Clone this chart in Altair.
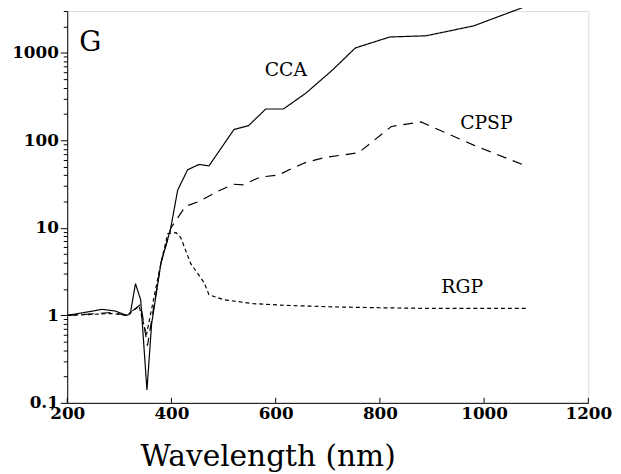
import altair as alt
import pandas as pd

# CCA (solid)
cca_wl = [200, 230, 267, 292, 314, 321, 331, 341, 353, 362, 380, 398, 412, 431, 453, 472, 520, 548, 581, 615, 658, 709, 753, 819, 889, 980, 1084]
cca_val = [1.0, 1.07, 1.17, 1.12, 1.0, 1.04, 2.3, 1.5, 0.14, 0.8, 4.0, 9.5, 27, 46, 53, 51, 133, 147, 228, 228, 346, 635, 1137, 1515, 1565, 2030, 3460]

# CPSP (long dashes)
cpsp_wl = [200, 240, 285, 314, 341, 354, 380, 399, 427, 453, 488, 519, 538, 570, 605, 626, 658, 696, 759, 822, 879, 980, 1084]
cpsp_val = [1.0, 1.03, 1.08, 1.0, 1.33, 0.45, 4.0, 10, 17.6, 20, 26, 31.5, 31, 38, 40, 46, 56, 64, 72, 144, 162, 88, 50]

# RGP (short dashes)
rgp_wl = [200, 240, 285, 314, 338, 352, 380, 393, 409, 418, 437, 463, 472, 500, 557, 620, 709, 800, 900, 1000, 1084]
rgp_val = [1.0, 1.02, 1.05, 1.0, 1.27, 0.6, 4.0, 8.6, 8.8, 7.7, 3.9, 2.35, 1.72, 1.51, 1.36, 1.3, 1.25, 1.22, 1.2, 1.2, 1.2]

x_ticks = [200, 400, 600, 800, 1000, 1200]
y_major = [0.1, 1, 10, 100, 1000]
y_all = [m * d for d in [0.1, 1, 10, 100, 1000] for m in range(1, 10)]
y_all = [round(v, 6) for v in y_all if v <= 3000]

labels = ["G", "CCA", "CPSP", "RGP"]
label_x = [223, 579, 954, 918]
label_y = [1050, 537, 136, 1.81]
label_size = [28, 19, 19, 19]

rows = []
for name, wl, val in [("CCA", cca_wl, cca_val), ("CPSP", cpsp_wl, cpsp_val), ("RGP", rgp_wl, rgp_val)]:
    for i, (a, b) in enumerate(zip(wl, val)):
        rows.append({"series": name, "wl": a, "v": b, "order": i})
df = pd.DataFrame(rows)
lab_df = pd.DataFrame({"t": labels, "x": label_x, "y": label_y, "s": label_size})
tick_df = pd.DataFrame({"x": x_ticks})

FONT = "DejaVu Serif"
W, H = 528, 397

xscale = alt.Scale(domain=[200, 1200], nice=False, zero=False)
yscale = alt.Scale(type="log", domain=[0.1, 3000], nice=False)

lines = alt.Chart(df).mark_line(color="black", strokeWidth=1.2).encode(
    x=alt.X("wl:Q", scale=xscale,
            axis=alt.Axis(values=x_ticks, title="Wavelength  (nm)", tickSize=0, format="d",
                          labelFont=FONT, labelFontSize=17, labelFontWeight="bold", labelPadding=3,
                          titleFont=FONT, titleFontSize=30, titleFontWeight="normal",
                          titleX=203, titleY=63, titleBaseline="alphabetic", titleAlign="center",
                          domainColor="black", labelColor="black", titleColor="black",
                          grid=False, labelFlush=False)),
    y=alt.Y("v:Q", scale=yscale,
            axis=alt.Axis(values=y_all, title=None,
                          labelExpr="indexof([0.1,1,10,100,1000], datum.value) >= 0 ? '' + datum.value : ''",
                          tickSize={"condition": {"test": "indexof([0.1,1,10,100,1000], datum.value) >= 0", "value": 7}, "value": 4},
                          labelFont=FONT, labelFontSize=17, labelFontWeight="bold", labelPadding=2,
                          domainColor="black", tickColor="black", labelColor="black",
                          grid=False, labelFlush=False)),
    strokeDash=alt.StrokeDash("series:N",
                              scale=alt.Scale(domain=["CCA", "CPSP", "RGP"], range=[[1, 0], [10, 7], [4, 3]]),
                              legend=None),
    order="order:Q",
)

xt = alt.Chart(tick_df).mark_rule(color="black", strokeWidth=1).encode(
    x=alt.X("x:Q", scale=xscale),
    y=alt.value(H),
    y2=alt.value(H - 5),
)

text = alt.Chart(lab_df).mark_text(font=FONT, align="left", baseline="alphabetic", color="black").encode(
    x=alt.X("x:Q", scale=xscale),
    y=alt.Y("y:Q", scale=yscale),
    text="t:N",
    size=alt.Size("s:Q", scale=None, legend=None),
)

chart = alt.layer(lines, xt, text).properties(
    width=W, height=H,
    autosize=alt.AutoSizeParams(type="none"),
    padding={"left": 60, "right": 25, "top": 0, "bottom": 68},
).configure_view(stroke="black", strokeWidth=1.2).configure(background="white")

chart.save("out.html", embed_options={"renderer": "svg", "actions": False})
